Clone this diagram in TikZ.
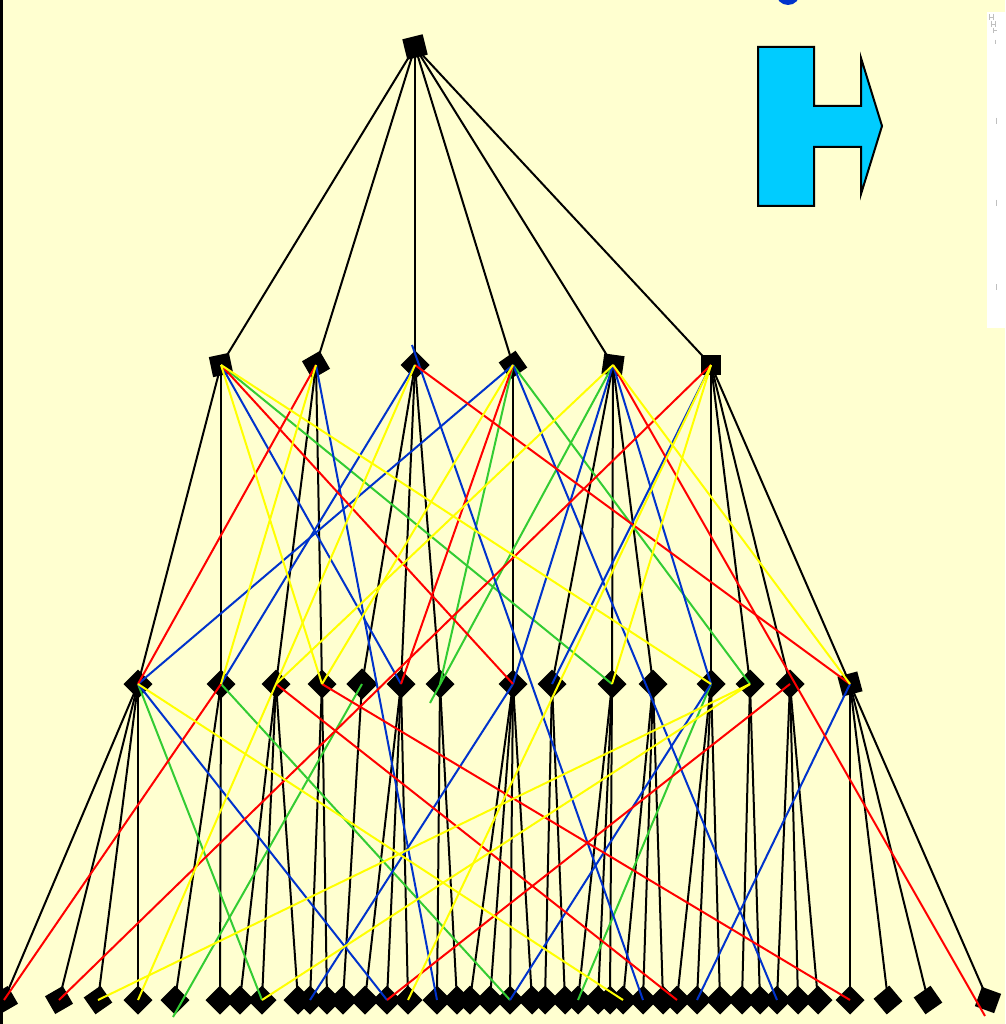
\documentclass[tikz,border=0pt]{standalone}
\definecolor{bg}{RGB}{255,255,208}
\definecolor{ylw}{RGB}{255,255,0}
\definecolor{rd}{RGB}{255,0,0}
\definecolor{blu}{RGB}{0,51,204}
\definecolor{grn}{RGB}{51,204,51}
\definecolor{cyn}{RGB}{0,204,255}
\begin{document}
\begin{tikzpicture}[x=1pt,y=-1pt,
  sqn/.style={rectangle,fill=black,inner sep=0pt,minimum size=20.5pt},
  blk/.style={black,line width=2pt},
  yl/.style={ylw,line width=2pt},
  rl/.style={rd,line width=2pt},
  bl/.style={blu,line width=2pt},
  gl/.style={grn,line width=2pt}]
\useasboundingbox (0,0) rectangle (1005,1024);
\clip (0,0) rectangle (1005,1024);
\fill[bg] (0,0) rectangle (1005,1024);
\fill[black] (0,0) rectangle (2.5,1024);
% decorations
\fill[blu] (788,-7) circle (12);
\filldraw[fill=cyn,draw=black,line width=2pt,line join=miter]
  (758,47) -- (814,47) -- (814,106) -- (861,106) -- (861,58) -- (882,126)
  -- (861,194) -- (861,147) -- (814,147) -- (814,206) -- (758,206) -- cycle;
\fill[white] (987,12) rectangle (1005,328);
\draw[black!25,line width=0.6pt] (989,14)--(989,20) (989,17)--(993,17) (993,14)--(993,20)
  (991,21)--(991,27) (991,24)--(995,24) (995,21)--(995,27)
  (993,28)--(993,33) (993,30)--(997,30) (995,40)--(995,44)
  (996,118)--(996,124) (996,200)--(996,206) (996,284)--(996,290);
% root
\node[sqn,minimum size=21pt,rotate=14] (r) at (415,47) {};
% level 2
\foreach \n/\r in {221/12,316/30,415/45,513/35,613/-8,711/0}
  \node[sqn,rotate=\r] (p\n) at (\n,365) {};
% level 3
\foreach \n/\r in {138/45,221/45,276/45,322/45,401/45,440/45,513/45,552/45,612/45,653/45,711/45,750/45,790/45}
  \node[sqn,rotate=\r] (c\n) at (\n,684) {};
\node[sqn,minimum size=22pt,rotate=45] (c362) at (362,684) {};
\node[sqn,rotate=15] (c850) at (850,684) {};
% bottom
\foreach \n/\r in {4/30,59/30,98/35,138/45,175/45,220/45,240/45,262/45,298/45,310/45,327/45,343/45,365/45,387/45,408/45,437/45,457/45,470/45,490/45,510/45,532/45,545/45,565/45,578/45,598/45,610/45,623/45,643/45,663/45,677/45,697/45,720/45,742/45,760/45,777/45,798/45,818/45,850/45,888/40,928/35,988/-20}
  \node[sqn,rotate=\r] (b\n) at (\n,1000) {};
\coordinate (gEnd) at (430,703);
\coordinate (gSeven) at (173,1017);
\coordinate (bTop) at (412,345);
\coordinate (rEnd) at (985,1016);
% black tree edges
\foreach \n in {221,316,415,513,613,711} \draw[blk] (r.center) -- (p\n.center);
\foreach \a/\b in {221/138,221/221,316/276,316/322,415/362,415/401,415/440,513/513,
  613/552,613/612,613/653,711/711,711/750,711/790,711/850}
  \draw[blk] (p\a.center) -- (c\b.center);
\foreach \a/\b in {138/4,138/59,138/98,138/138,221/175,221/220,276/240,276/262,276/298,
  322/310,322/327,362/343,401/365,401/387,401/408,440/437,440/457,
  513/470,513/490,513/510,513/532,552/545,552/565,612/578,612/598,612/610,
  653/623,653/643,653/663,711/677,711/697,711/720,750/742,750/760,
  790/777,790/798,790/818,850/850,850/888,850/928,850/988}
  \draw[blk] (c\a.center) -- (b\b.center);
% green
\foreach \a/\b in {221/612,513/440,513/750} \draw[gl] (p\a.center) -- (c\b.center);
\draw[gl] (p613.center) -- (gEnd);
\foreach \a/\b in {138/262,221/510,711/578} \draw[gl] (c\a.center) -- (b\b.center);
\draw[gl] (c362.center) -- (gSeven);
% blue
\foreach \a/\b in {221/401,415/221,513/138,613/513,613/711,711/552} \draw[bl] (p\a.center) -- (c\b.center);
\foreach \a/\b in {316/437,513/777} \draw[bl] (p\a.center) -- (b\b.center);
\draw[bl] (bTop) -- (b643.center);
\foreach \a/\b in {138/387,513/310,711/510,850/697} \draw[bl] (c\a.center) -- (b\b.center);
% red
\foreach \a/\b in {221/513,316/138,415/850,513/401} \draw[rl] (p\a.center) -- (c\b.center);
\draw[rl] (p711.center) -- (b59.center);
\draw[rl] (p613.center) -- (rEnd);
\foreach \a/\b in {221/4,276/677,322/850,790/387} \draw[rl] (c\a.center) -- (b\b.center);
% yellow
\foreach \a/\b in {221/322,221/711,316/221,415/276,613/276,513/322,711/612,613/850}
  \draw[yl] (p\a.center) -- (c\b.center);
\draw[yl] (p711.center) -- (b408.center);
\foreach \a/\b in {276/138,138/623,750/98,750/262} \draw[yl] (c\a.center) -- (b\b.center);
\end{tikzpicture}
\end{document}
